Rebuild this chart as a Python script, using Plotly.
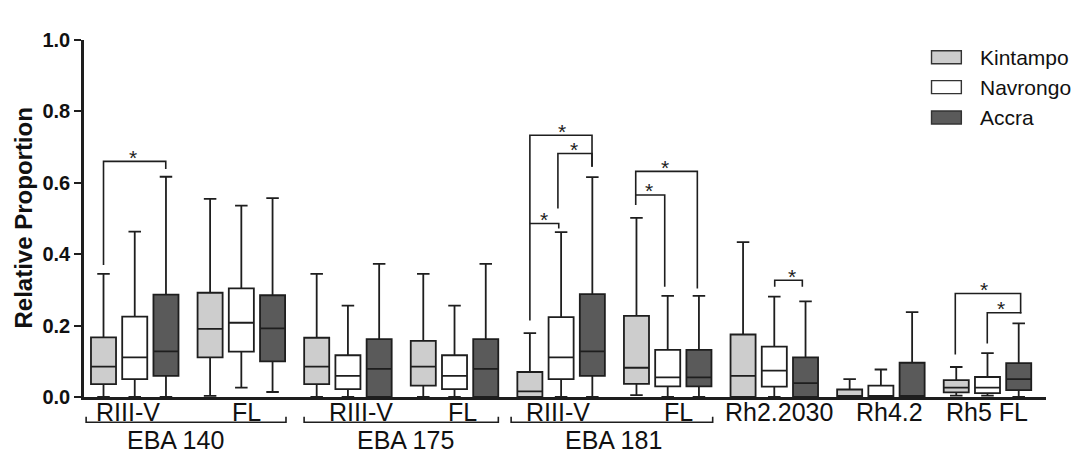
import plotly.graph_objects as go

# ---- data -------------------------------------------------------------
sites = ["Kintampo", "Navrongo", "Accra"]

categories = ["EBA140 RIII-V", "EBA140 FL", "EBA175 RIII-V", "EBA175 FL",
              "EBA181 RIII-V", "EBA181 FL", "Rh2.2030", "Rh4.2", "Rh5 FL"]

# five-number summaries (whisker min, Q1, median, Q3, whisker max) per site
kintampo_min = [0.000, 0.003, 0.000, 0.000, 0.000, 0.005, 0.000, 0.000, 0.004]
kintampo_q1 = [0.036, 0.111, 0.036, 0.032, 0.000, 0.037, 0.000, 0.000, 0.013]
kintampo_med = [0.085, 0.191, 0.085, 0.085, 0.016, 0.082, 0.059, 0.000, 0.026]
kintampo_q3 = [0.167, 0.292, 0.166, 0.157, 0.070, 0.227, 0.175, 0.021, 0.047]
kintampo_max = [0.345, 0.555, 0.345, 0.345, 0.179, 0.502, 0.434, 0.050, 0.084]

navrongo_min = [0.000, 0.026, 0.000, 0.000, 0.000, 0.000, 0.000, 0.000, 0.004]
navrongo_q1 = [0.050, 0.127, 0.022, 0.022, 0.050, 0.030, 0.029, 0.000, 0.011]
navrongo_med = [0.111, 0.208, 0.059, 0.059, 0.111, 0.055, 0.074, 0.000, 0.026]
navrongo_q3 = [0.225, 0.304, 0.117, 0.117, 0.224, 0.132, 0.141, 0.032, 0.056]
navrongo_max = [0.463, 0.536, 0.256, 0.256, 0.462, 0.283, 0.281, 0.077, 0.123]

accra_min = [0.000, 0.014, 0.000, 0.000, 0.000, 0.000, 0.000, 0.000, 0.000]
accra_q1 = [0.059, 0.100, 0.000, 0.000, 0.059, 0.030, 0.000, 0.000, 0.019]
accra_med = [0.128, 0.192, 0.079, 0.079, 0.128, 0.055, 0.039, 0.000, 0.050]
accra_q3 = [0.287, 0.285, 0.162, 0.162, 0.288, 0.132, 0.111, 0.096, 0.095]
accra_max = [0.617, 0.557, 0.373, 0.373, 0.616, 0.283, 0.268, 0.238, 0.206]

# axis labels under the boxes
sub_labels = ["RIII-V", "FL", "RIII-V", "FL", "RIII-V", "FL",
              "Rh2.2030", "Rh4.2", "Rh5 FL"]
group_labels = ["EBA 140", "EBA 175", "EBA 181"]

y_ticks = [0.0, 0.2, 0.4, 0.6, 0.8, 1.0]

# ---- styling ----------------------------------------------------------
FONT = "Arial, Liberation Sans, sans-serif"
INK = "#1e1e1e"
fills = ["#cdcdcd", "#ffffff", "#5a5a5a"]
offsets = [-0.293, 0.0, 0.293]
BOX_W = 0.235

stats = [
    (kintampo_min, kintampo_q1, kintampo_med, kintampo_q3, kintampo_max),
    (navrongo_min, navrongo_q1, navrongo_med, navrongo_q3, navrongo_max),
    (accra_min, accra_q1, accra_med, accra_q3, accra_max),
]

fig = go.Figure()
for name, fill, off, (lo, q1, med, q3, hi) in zip(sites, fills, offsets, stats):
    fig.add_trace(go.Box(
        name=name,
        x=[i + off for i in range(len(categories))],
        lowerfence=lo, q1=q1, median=med, q3=q3, upperfence=hi,
        width=BOX_W, whiskerwidth=0.5,
        fillcolor=fill, line=dict(color=INK, width=1.8),
        boxpoints=False, showlegend=False, hoverinfo="skip",
    ))

shapes = []
annotations = []

# significance brackets: (x_left, x_right, y_top, y_left_end, y_right_end, star_x)
brackets = [
    (0 - 0.293, 0 + 0.291, 0.660, 0.370, 0.639, -0.02),
    (4 - 0.293, 4 + 0.290, 0.733, 0.214, 0.645, 4.006),
    (4 - 0.030, 4 + 0.290, 0.682, 0.528, 0.645, 4.120),
    (4 - 0.293, 4 - 0.022, 0.486, 0.486, 0.472, 3.837),
    (5 - 0.300, 5 + 0.278, 0.632, 0.538, 0.304, 4.977),
    (5 - 0.300, 5 - 0.028, 0.566, 0.566, 0.309, 4.828),
    (6 + 0.004, 6 + 0.263, 0.327, 0.309, 0.309, 6.163),
    (8 - 0.302, 8 + 0.311, 0.290, 0.119, 0.234, 7.970),
    (8 - 0.002, 8 + 0.311, 0.236, 0.150, 0.234, 8.130),
]
for xl, xr, yt, yl, yr, sx in brackets:
    shapes.append(dict(
        type="path", xref="x", yref="y",
        path=f"M {xl},{yl} L {xl},{yt} L {xr},{yt} L {xr},{yr}",
        line=dict(color=INK, width=1.6),
    ))
    annotations.append(dict(
        x=sx, y=yt, xref="x", yref="y", text="*", showarrow=False,
        yanchor="middle", yshift=4, font=dict(family=FONT, size=21, color=INK),
    ))

# labels and brackets under the x axis
sub_x = [-0.063, 1.044, 2.123, 3.075, 3.974, 5.099, 6.044, 7.081, 7.993]
for lab, x in zip(sub_labels, sub_x):
    annotations.append(dict(
        x=x, y=-0.042, xref="x", yref="paper", text=lab, showarrow=False,
        yanchor="middle", font=dict(family=FONT, size=25, color="#111"),
    ))

group_x = [0.378, 2.543, 4.496]
group_span = [(-0.456, 1.419), (1.589, 3.411), (3.531, 5.422)]
for lab, x, (a, b) in zip(group_labels, group_x, group_span):
    shapes.append(dict(
        type="path", xref="x", yref="paper",
        path=f"M {a},-0.055 L {a},-0.0709 L {b},-0.0709 L {b},-0.055",
        line=dict(color=INK, width=1.6),
    ))
    annotations.append(dict(
        x=x, y=-0.1204, xref="x", yref="paper", text=lab, showarrow=False,
        yanchor="middle", font=dict(family=FONT, size=25, color="#111"),
    ))

# legend drawn as swatches with labels
leg_y = [0.9515, 0.868, 0.783]
for name, fill, y in zip(sites, fills, leg_y):
    shapes.append(dict(
        type="rect", xref="paper", yref="paper",
        x0=0.881, x1=0.912, y0=y - 0.0182, y1=y + 0.0182,
        fillcolor=fill, line=dict(color="#333", width=1.4),
    ))
    annotations.append(dict(
        x=0.929, y=y, xref="paper", yref="paper", text=name, showarrow=False,
        xanchor="left", yanchor="middle",
        font=dict(family=FONT, size=21, color="#111"),
    ))

# y-axis title
annotations.append(dict(
    x=-0.0634, y=0.5, xref="paper", yref="paper", text="Relative Proportion",
    textangle=-90, showarrow=False, xanchor="center", yanchor="middle",
    font=dict(family=FONT, size=24, color="#111", weight="bold"),
))

fig.update_layout(
    width=1077, height=453,
    margin=dict(l=84, r=31, t=40, b=56),
    paper_bgcolor="white", plot_bgcolor="white",
    boxmode="overlay",
    shapes=shapes, annotations=annotations,
    xaxis=dict(
        type="linear", range=[-0.476, 8.549],
        showline=True, linecolor=INK, linewidth=2.6,
        showgrid=False, zeroline=False, ticks="", showticklabels=False,
    ),
    yaxis=dict(
        range=[0, 1.0], tickvals=y_ticks, tickformat=".1f",
        showline=True, linecolor=INK, linewidth=2.6,
        ticks="outside", ticklen=7, tickwidth=2.4, tickcolor=INK,
        showgrid=False, zeroline=False,
        tickfont=dict(family=FONT, size=20, color="#111", weight="bold"),
    ),
)

fig.write_html("out.html")
